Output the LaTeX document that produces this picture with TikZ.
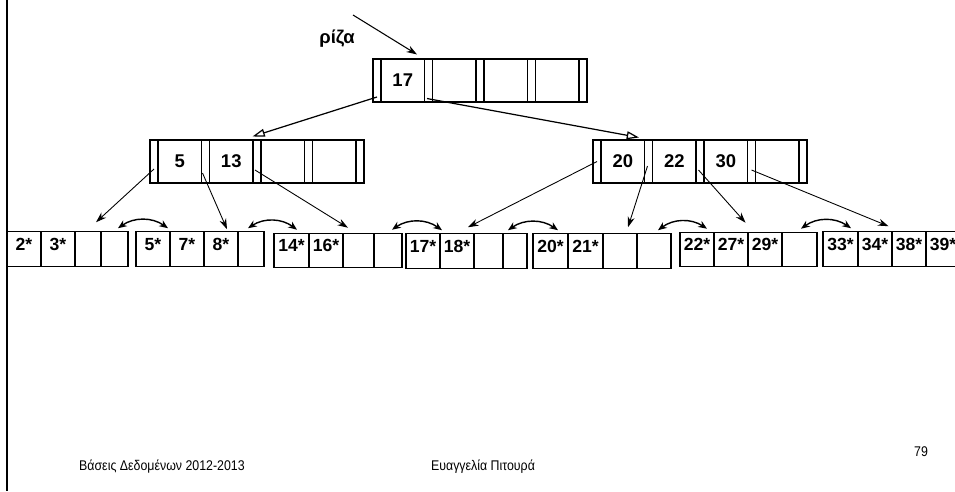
\documentclass[tikz,border=0pt]{standalone}
\usepackage{fontspec}
\setmainfont{Liberation Sans}[BoldFont={Liberation Sans Bold}]
\newfontfamily\footfont{Liberation Sans}[FakeStretch=0.88]
\usetikzlibrary{arrows.meta,calc}

\begin{document}
\begin{tikzpicture}[x=0.02cm,y=-0.02cm,
    ptrcell/.style={draw,line width=0.6pt,minimum width=0.16cm,minimum height=0.86cm,inner sep=0pt},
    keycell/.style={draw,line width=0.6pt,minimum width=0.87cm,minimum height=0.86cm,inner sep=0pt,
      font=\fontsize{10.5}{12}\selectfont\bfseries},
    leafcell/.style={draw,line width=0.6pt,minimum height=0.69cm,inner sep=0pt,text height=7pt,text depth=5.8pt,
      font=\fontsize{10}{11}\selectfont\bfseries},
    childarrow/.style={-{Stealth[length=6pt,width=4pt]},line width=0.5pt},
    rootarrow/.style={-{Triangle[open,length=7pt,width=4.5pt]},line width=0.7pt},
    sibling/.style={{Stealth[length=5pt,width=4pt]}-{Stealth[length=5pt,width=4pt]},line width=0.8pt},
    foot/.style={font=\footfont\fontsize{8}{9}\selectfont}]
    \useasboundingbox (0,0) rectangle (955,491);
%    \draw [color=gray] [step=10] (0,0) grid (955,491);
    \draw[line width=1.2pt] (7,0) -- (7,491);

    % root
    \foreach \i in {0,...,4}
      \node[ptrcell] (root-p\i) at (377+51.5*\i,80.5) {};
    \foreach \i/\k in {1/17,2/,3/,4/}
      \node[keycell] (root-k\i) at (351.25+51.5*\i,80.5) {\k};
    \node[font=\fontsize{10.5}{12}\selectfont\bfseries] (root-label) at (337,39) {ρίζα};
    \coordinate (root-in) at (353,15);
    \draw[-{Stealth[length=6pt,width=4pt]},line width=0.6pt] (root-in) -- ($(root-k1.north east)+(-8,-4)$);

    % index level
    \foreach \i in {0,...,4}
      \node[ptrcell] (left-p\i) at (154+51.5*\i,161.5) {};
    \foreach \i/\k in {1/5,2/13,3/,4/}
      \node[keycell] (left-k\i) at (128.25+51.5*\i,161.5) {\k};
    \foreach \i in {0,...,4}
      \node[ptrcell] (right-p\i) at (597+51.5*\i,161.5) {};
    \foreach \i/\k in {1/20,2/22,3/30,4/}
      \node[keycell] (right-k\i) at (571.25+51.5*\i,161.5) {\k};

    % leaves
    \foreach \c/\a/\b/\t in {a/7/41/2*,b/41/75/3*,c/75/101/,d/101/128/}
      \node[leafcell,minimum width={(\b-\a)*0.02cm}] (leaf1-\c) at ({(\a+\b)/2},249) {\t};
    \foreach \c/\a/\b/\t in {a/136/170/5*,b/170/204/7*,c/204/238/8*,d/238/264/}
      \node[leafcell,minimum width={(\b-\a)*0.02cm}] (leaf2-\c) at ({(\a+\b)/2},249) {\t};
    \foreach \c/\a/\b/\t in {a/274/309/14*,b/309/343/16*,c/343/374/,d/374/402/}
      \node[leafcell,minimum width={(\b-\a)*0.02cm}] (leaf3-\c) at ({(\a+\b)/2},250.5) {\t};
    \foreach \c/\a/\b/\t in {a/406/440/17*,b/440/474/18*,c/474/503/,d/503/527/}
      \node[leafcell,minimum width={(\b-\a)*0.02cm}] (leaf4-\c) at ({(\a+\b)/2},251) {\t};
    \foreach \c/\a/\b/\t in {a/533/568/20*,b/568/603/21*,c/603/637/,d/637/671/}
      \node[leafcell,minimum width={(\b-\a)*0.02cm}] (leaf5-\c) at ({(\a+\b)/2},251) {\t};
    \foreach \c/\a/\b/\t in {a/680/714/22*,b/714/748/27*,c/748/782/29*,d/782/817/}
      \node[leafcell,minimum width={(\b-\a)*0.02cm}] (leaf6-\c) at ({(\a+\b)/2},249.5) {\t};
    \foreach \c/\a/\b/\t in {a/823/858/33*,b/858/892/34*,c/892/926/38*,d/926/960/39*}
      \node[leafcell,minimum width={(\b-\a)*0.02cm}] (leaf7-\c) at ({(\a+\b)/2},249) {\t};

    % pointers
    \draw[rootarrow] ($(root-p0.center)+(0,16.5)$) -- ($(left-k2.north east)+(-1,-3)$);
    \draw[rootarrow] ($(root-p1.south)+(-1.5,-4)$) -- ($(right-k1.north east)+(-6,-2)$);
    \draw[childarrow] ($(left-p0.center)+(0,7.5)$) -- ($(leaf1-c.north)+(8,-9)$);
    \draw[childarrow] ($(left-p1.center)+(-3,11.5)$) -- ($(leaf2-c.north)+(6,-2)$);
    \draw[childarrow] ($(left-p2.center)+(-2,8.5)$) -- ($(leaf3-c.north)+(-10.5,-5)$);
    \draw[childarrow] (right-p0.center) -- ($(leaf4-b.north)+(11,-6)$);
    \draw[childarrow] ($(right-p1.center)+(-1,4.5)$) -- ($(leaf5-c.north)+(8,-6)$);
    \draw[childarrow] ($(right-p2.center)+(-1.5,8.5)$) -- ($(leaf6-b.north east)+(-3,-9)$);
    \draw[childarrow] ($(right-p3.center)+(0,8.5)$) -- ($(leaf7-b.north east)+(-4,-5)$);
    \foreach \a/\b/\s/\e in {leaf1/leaf2/3.5/15,leaf2/leaf3/-3/5.5,leaf3/leaf4/4/19,
                             leaf4/leaf5/-7/7.5,leaf5/leaf6/4/10,leaf6/leaf7/1.5/10.5}
      \draw[sibling] ($(\a-d.north)+(\s,-3)$) to[bend left=35] ($(\b-a.north)+(\e,-3)$);

    % footer
    \node[foot,anchor=west] (foot-course) at (73,467) {Βάσεις Δεδομένων 2012-2013};
    \node[foot] (foot-author) at (483,467) {Ευαγγελία Πιτουρά};
    \node[foot] (foot-page) at (921,452) {79};
\end{tikzpicture}
\end{document}
